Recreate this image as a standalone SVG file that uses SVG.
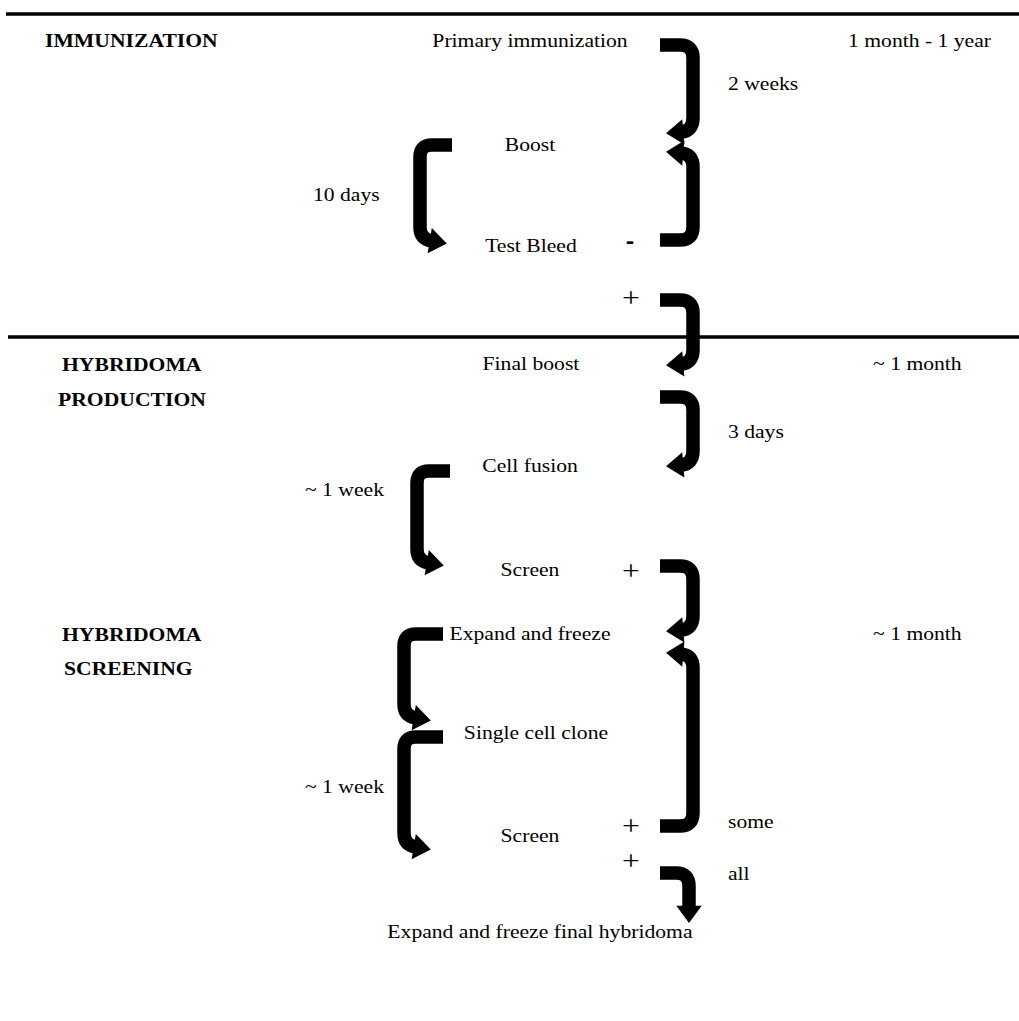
<svg xmlns="http://www.w3.org/2000/svg" width="1019" height="1021" viewBox="0 0 1019 1021">
  <style>
    .t { font-family: "Liberation Serif", "Times New Roman", serif; font-size: 18.5px; fill: #000; }
    .b { font-weight: bold; }
    .m { text-anchor: middle; }
    .plus { font-family: "Liberation Serif", "Times New Roman", serif; font-size: 27px; text-anchor: middle; }
    .sign { font-family: "Liberation Sans", Arial, sans-serif; font-size: 22px; font-weight: bold; text-anchor: middle; }
    .rule { stroke: #000; stroke-width: 3.5; fill: none; }
    .flow { stroke: #000; stroke-width: 13.5; fill: none; stroke-linejoin: round; marker-end: url(#head); }
  </style>
  <defs>
    <marker id="head" markerUnits="userSpaceOnUse" markerWidth="30" markerHeight="30" refX="0" refY="0" viewBox="-3 -13 18 26" orient="auto" overflow="visible">
      <path d="M-2,-11 L13,0 L-2,11 Z" fill="#000"/>
    </marker>
  </defs>

  <rect width="1019" height="1021" fill="#fff"/>

  <!-- stage separators -->
  <g id="rules">
    <line class="rule" x1="6" y1="14" x2="1019" y2="14"/>
    <line class="rule" x1="8" y1="337" x2="1019" y2="337"/>
  </g>

  <!-- connectors -->
  <g id="connectors">
    <!-- primary immunization -> boost -->
    <path class="flow" d="M660,45 H680 Q693,45 693,58 V118 Q693,131 681,132"/>
    <!-- test bleed (-) -> boost -->
    <path class="flow" d="M660,240 H680 Q693,240 693,227 V167 Q693,154 681,153"/>
    <!-- boost -> test bleed -->
    <path class="flow" d="M452,145 H432 Q420,145 420,157 V227 Q420,239 432,241"/>
    <!-- test bleed (+) -> final boost -->
    <path class="flow" d="M660,300 H680 Q693,300 693,313 V350 Q693,363 681,364"/>
    <!-- final boost -> cell fusion -->
    <path class="flow" d="M660,397 H680 Q693,397 693,410 V451 Q693,464 681,465"/>
    <!-- cell fusion -> screen -->
    <path class="flow" d="M450,471 H429 Q417,471 417,483 V549 Q417,561 429,563"/>
    <!-- screen (+) -> expand and freeze -->
    <path class="flow" d="M660,566 H680 Q693,566 693,579 V616 Q693,629 681,630"/>
    <!-- expand and freeze -> single cell clone -->
    <path class="flow" d="M443,634 H416 Q404,634 404,646 V704 Q404,716 416,718"/>
    <!-- single cell clone -> screen -->
    <path class="flow" d="M443,737 H416 Q404,737 404,749 V833 Q404,845 416,847"/>
    <!-- screen (+, some) -> expand and freeze -->
    <path class="flow" d="M660,826 H680 Q693,826 693,813 V668 Q693,655 681,654"/>
    <!-- screen (+, all) -> final hybridoma -->
    <path class="flow" d="M660,873 H676 Q689,873 689,886 V908"/>
  </g>

  <g transform="scale(1.17 1)">
    <!-- stage headings -->
    <g id="stage-immunization">
      <text class="t b" x="38.5" y="47">IMMUNIZATION</text>
      <text class="t" x="724.8" y="47">1 month - 1 year</text>
    </g>
    <g id="stage-production">
      <text class="t b" x="53" y="371">HYBRIDOMA</text>
      <text class="t b" x="49.6" y="406">PRODUCTION</text>
      <text class="t" x="746.2" y="370">~ 1 month</text>
    </g>
    <g id="stage-screening">
      <text class="t b" x="53" y="641">HYBRIDOMA</text>
      <text class="t b" x="54.7" y="675">SCREENING</text>
      <text class="t" x="746.2" y="640">~ 1 month</text>
    </g>

    <!-- steps -->
    <g id="primary-immunization"><text class="t m" x="453" y="47">Primary immunization</text></g>
    <g id="boost"><text class="t m" x="453" y="151">Boost</text></g>
    <g id="test-bleed"><text class="t m" x="453.8" y="252">Test Bleed</text></g>
    <g id="final-boost"><text class="t m" x="453.8" y="370">Final boost</text></g>
    <g id="cell-fusion"><text class="t m" x="453" y="472">Cell fusion</text></g>
    <g id="screen-1"><text class="t m" x="453" y="576">Screen</text></g>
    <g id="expand-freeze"><text class="t m" x="453" y="640">Expand and freeze</text></g>
    <g id="single-cell-clone"><text class="t m" x="458.1" y="739">Single cell clone</text></g>
    <g id="screen-2"><text class="t m" x="453" y="842">Screen</text></g>
    <g id="final-hybridoma"><text class="t m" x="461.5" y="938">Expand and freeze final hybridoma</text></g>

    <!-- intervals and outcomes -->
    <g id="labels">
      <text class="t" x="622.2" y="90">2 weeks</text>
      <text class="t" x="267.5" y="201">10 days</text>
      <text class="t" x="622.2" y="438">3 days</text>
      <text class="t" x="260.7" y="496">~ 1 week</text>
      <text class="t" x="260.7" y="793">~ 1 week</text>
      <text class="t" x="622.2" y="828">some</text>
      <text class="t" x="622.2" y="880">all</text>
      <text class="sign" x="538.5" y="248">-</text>
      <text class="plus" x="539.3" y="307">+</text>
      <text class="plus" x="539.3" y="580">+</text>
      <text class="plus" x="539.3" y="835">+</text>
      <text class="plus" x="539.3" y="870">+</text>
    </g>
  </g>
</svg>
